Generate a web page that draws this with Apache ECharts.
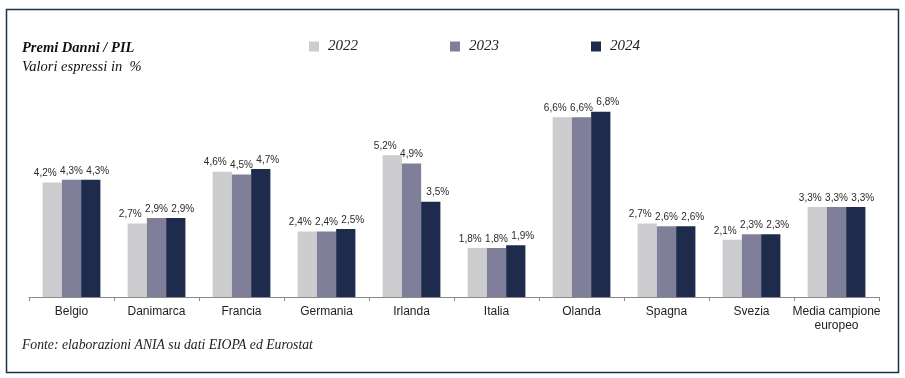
<!DOCTYPE html>
<html><head><meta charset="utf-8">
<script src="https://cdn.jsdelivr.net/npm/echarts@6/dist/echarts.min.js"></script>
<style>html,body{margin:0;padding:0;background:#fff}#c{width:905px;height:378px}</style>
</head><body><div id="c"></div>
<script>
const categories = ['Belgio','Danimarca','Francia','Germania','Irlanda','Italia','Olanda','Spagna','Svezia','Media campione\neuropeo'];
const years = ['2022','2023','2024'];
const v2022 = [4.2, 2.7, 4.6, 2.4, 5.2, 1.8, 6.6, 2.7, 2.1, 3.3];
const v2023 = [4.3, 2.9, 4.5, 2.4, 4.9, 1.8, 6.6, 2.6, 2.3, 3.3];
const v2024 = [4.3, 2.9, 4.7, 2.5, 3.5, 1.9, 6.8, 2.6, 2.3, 3.3];
const colors = ['#cdcccf', '#807f99', '#1e2b4d'];
const serif = '"Liberation Serif", "DejaVu Serif", serif';
const labelFont = '"Liberation Sans", Arial, sans-serif';

const chart = echarts.init(document.getElementById('c'), null, {renderer: 'canvas'});
const offsets = [[-7, 0], [0, 0], [7, 0]];
const mk = (i, data) => ({
  name: years[i], type: 'bar', data, barGap: '0%', barCategoryGap: '32%',
  itemStyle: {color: colors[i]},
  label: {show: true, position: 'top', distance: 4, offset: offsets[i], color: '#2a2a2a', fontSize: 10,
    fontFamily: labelFont,
    formatter: p => p.value.toFixed(1).replace('.', ',') + '%'}
});
chart.setOption({
  animation: false,
  color: colors,
  title: {
    text: 'Premi Danni / PIL', subtext: 'Valori espressi in  %',
    left: 17, top: 36, itemGap: 4,
    textStyle: {fontFamily: serif, fontStyle: 'italic', fontWeight: 'bold', fontSize: 14.5, color: '#111'},
    subtextStyle: {fontFamily: serif, fontStyle: 'italic', fontSize: 14.5, color: '#111'}
  },
  legend: {
    data: years, left: 304, top: 34, itemWidth: 10, itemHeight: 10, itemGap: 92,
    icon: 'rect',
    textStyle: {fontFamily: serif, fontStyle: 'italic', fontSize: 15, color: '#222', padding: [0, 0, 0, 4]}
  },
  grid: {left: 29, right: 26, top: 79, bottom: 81, containLabel: false},
  xAxis: {
    type: 'category', data: categories,
    axisLine: {lineStyle: {color: '#8a8a8a', width: 1}},
    axisTick: {show: true, length: 4, lineStyle: {color: '#8a8a8a'}},
    axisLabel: {color: '#222', fontSize: 12, fontFamily: '"Liberation Sans", Arial, sans-serif', margin: 8, lineHeight: 14, interval: 0}
  },
  yAxis: {type: 'value', min: 0, max: 8, show: false, splitLine: {show: false}},
  series: [mk(0, v2022), mk(1, v2023), mk(2, v2024)],
  graphic: [
    {type: 'rect', shape: {x: 6.5, y: 9.5, width: 892, height: 363},
     style: {fill: 'none', stroke: '#1a3048', lineWidth: 1.5}, z: 100},
    {type: 'text', left: 22, top: 338,
     style: {text: 'Fonte: elaborazioni ANIA su dati EIOPA ed Eurostat', font: 'italic 13.7px ' + serif, fill: '#222'}}
  ]
});
</script></body></html>
